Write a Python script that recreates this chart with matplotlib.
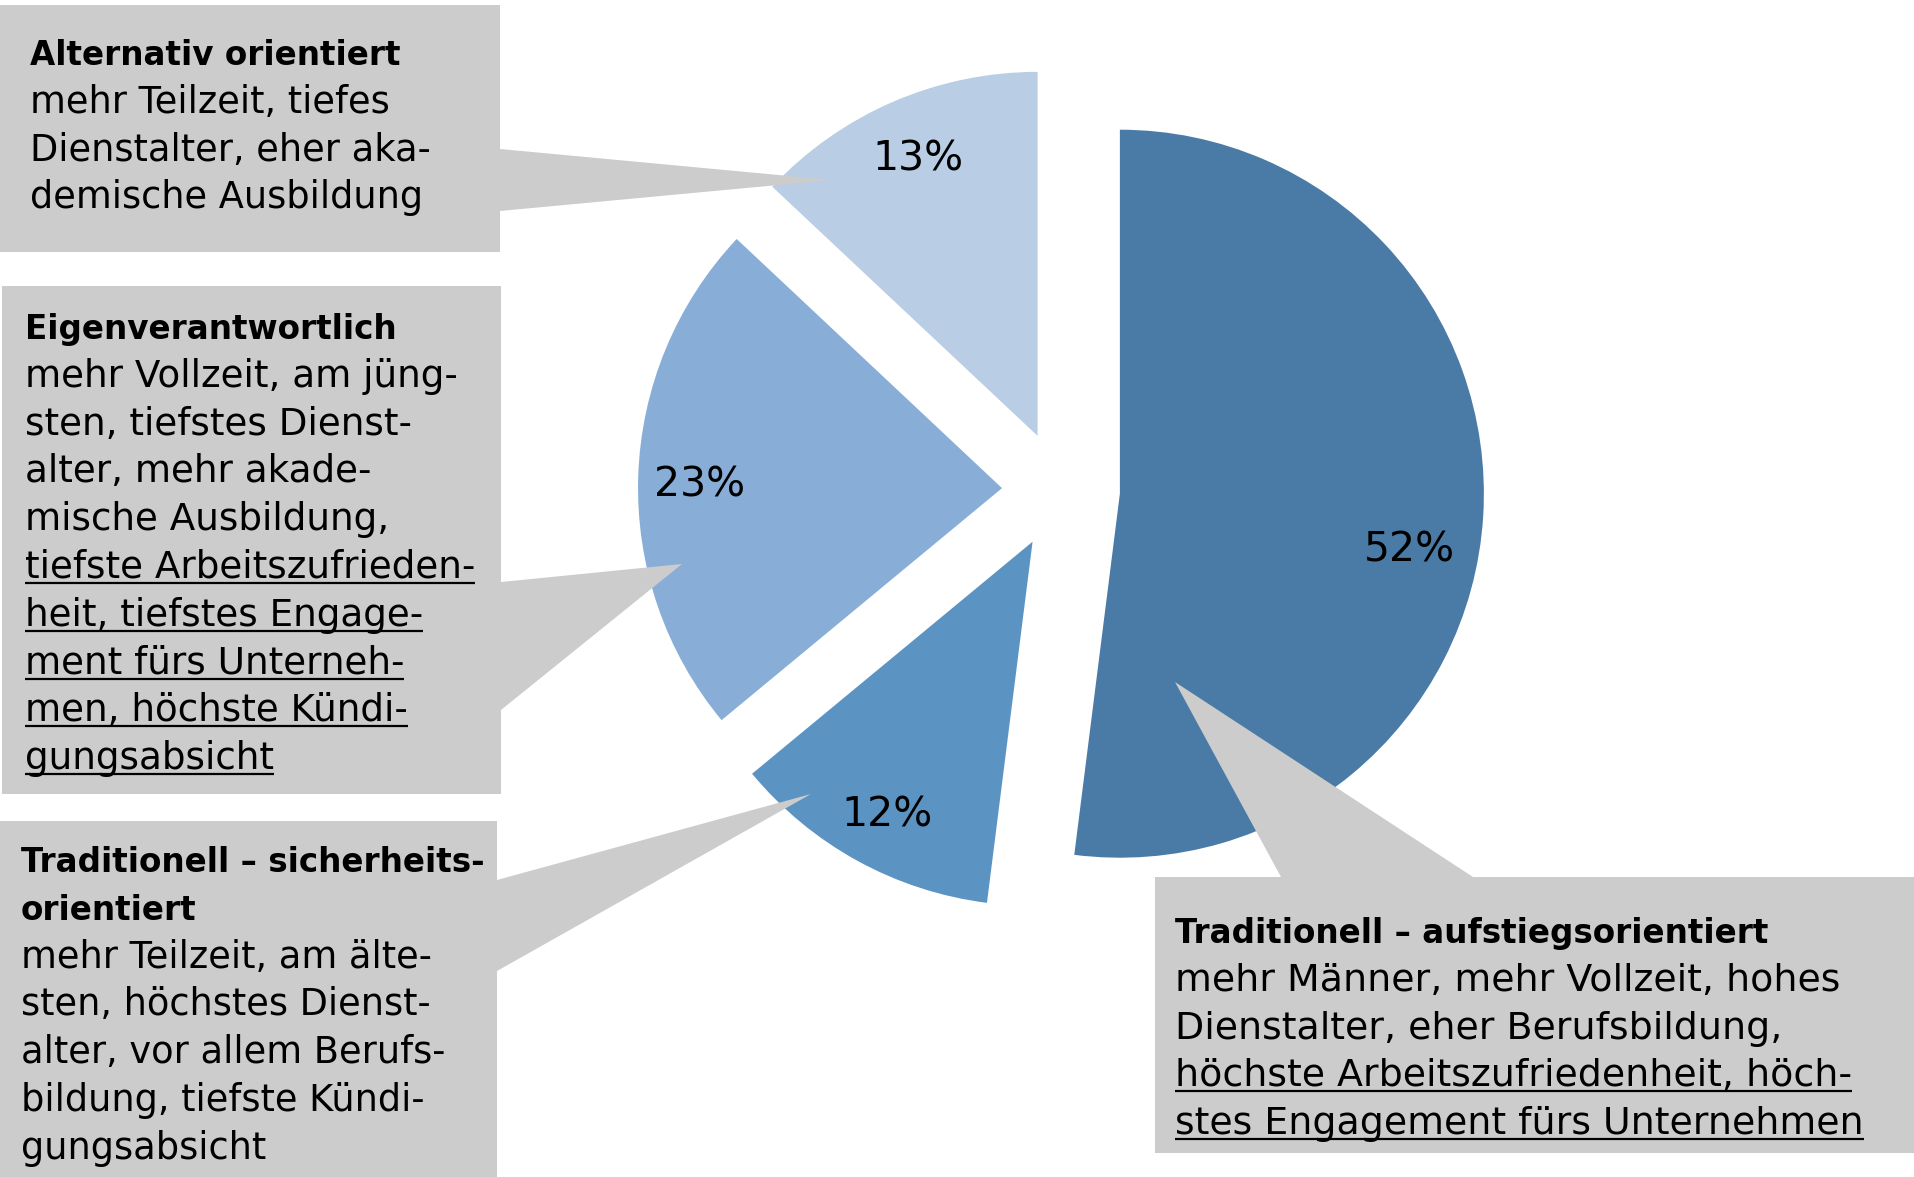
import matplotlib.pyplot as plt
from matplotlib.patches import Polygon

W, H = 1915, 1177

# shares of the four employee types (clockwise from 12 o'clock)
shares = [52, 12, 23, 13]
wedge_colors = ["#4a7ba6", "#5b94c3", "#88aed8", "#b9cde5"]

alt_title = ["Alternativ orientiert"]
alt_plain = ["mehr Teilzeit, tiefes", "Dienstalter, eher aka-", "demische Ausbildung"]
alt_under = []

eigen_title = ["Eigenverantwortlich"]
eigen_plain = ["mehr Vollzeit, am jüng-", "sten, tiefstes Dienst-",
               "alter, mehr akade-", "mische Ausbildung,"]
eigen_under = ["tiefste Arbeitszufrieden-", "heit, tiefstes Engage-",
               "ment fürs Unterneh-", "men, höchste Kündi-", "gungsabsicht"]

sicher_title = ["Traditionell – sicherheits-", "orientiert"]
sicher_plain = ["mehr Teilzeit, am älte-", "sten, höchstes Dienst-",
                "alter, vor allem Berufs-", "bildung, tiefste Kündi-", "gungsabsicht"]
sicher_under = []

aufstieg_title = ["Traditionell – aufstiegsorientiert"]
aufstieg_plain = ["mehr Männer, mehr Vollzeit, hohes", "Dienstalter, eher Berufsbildung,"]
aufstieg_under = ["höchste Arbeitszufriedenheit, höch-", "stes Engagement fürs Unternehmen"]

BOX_GREY = "#cccccc"
LINE_STEP = 47.8


def fy(y):
    """image row (top = 0) -> data y"""
    return H - y


plt.rcParams["font.family"] = ["DejaVu Sans"]
fig = plt.figure(figsize=(W / 100, H / 100), dpi=100)
ax = fig.add_axes([0, 0, 1, 1])

wedges, _, pct_texts = ax.pie(
    shares, colors=wedge_colors, startangle=90, counterclock=False,
    explode=[59] * len(shares), center=(1061, fy(490)), radius=364,
    autopct="%.0f%%", pctdistance=0.83,
    textprops=dict(fontsize=29.5, color="black"),
    wedgeprops=dict(linewidth=0))

# small nudges so the percentages sit a little lower in their wedges
nudges = [(-12, -38), (0, -9), (0, -7), (0, -1)]
for t, (dx, dy) in zip(pct_texts, nudges):
    x, y = t.get_position()
    t.set_position((x + dx, y + dy))
    t.set_zorder(5)

ax.set_xlim(0, W)
ax.set_ylim(0, H)
ax.set_aspect("auto")
ax.axis("off")

# grey callout boxes with their pointers
callouts = [
    [(0, 5), (500, 5), (500, 149), (832, 180), (500, 211), (500, 252), (0, 252)],
    [(2, 286), (501, 286), (501, 582), (682, 564), (501, 710), (501, 794), (2, 794)],
    [(0, 821), (497, 821), (497, 880), (811, 794), (497, 971), (497, 1177), (0, 1177)],
    [(1155, 877), (1281, 877), (1175, 682), (1473, 877), (1915, 877),
     (1915, 1153), (1155, 1153)],
]
for pts in callouts:
    ax.add_patch(Polygon([(x, fy(y)) for x, y in pts], closed=True,
                         facecolor=BOX_GREY, edgecolor="none", zorder=3))

blocks = [
    (30, 65, alt_title, alt_plain, alt_under, 26.5),
    (25, 339, eigen_title, eigen_plain, eigen_under, 26.8),
    (21, 872, sicher_title, sicher_plain, sicher_under, 26.5),
    (1175, 943, aufstieg_title, aufstieg_plain, aufstieg_under, 27.3),
]

underlined = []
for x0, y0, title, plain, under, size in blocks:
    y = y0
    for line in title:
        ax.text(x0, fy(y), line, fontsize=23.5, fontweight="bold",
                ha="left", va="baseline", zorder=4)
        y += LINE_STEP
    for line in plain:
        ax.text(x0, fy(y), line, fontsize=size, ha="left", va="baseline", zorder=4)
        y += LINE_STEP
    for line in under:
        t = ax.text(x0, fy(y), line, fontsize=size, ha="left", va="baseline", zorder=4)
        underlined.append((t, y))
        y += LINE_STEP

fig.canvas.draw()
renderer = fig.canvas.get_renderer()
for t, y in underlined:
    bb = t.get_window_extent(renderer)
    ax.plot([bb.x0, bb.x1], [fy(y + 5), fy(y + 5)], color="black",
            lw=1.6, solid_capstyle="butt", zorder=4)

fig.savefig("out.png", dpi=100, facecolor="white")
